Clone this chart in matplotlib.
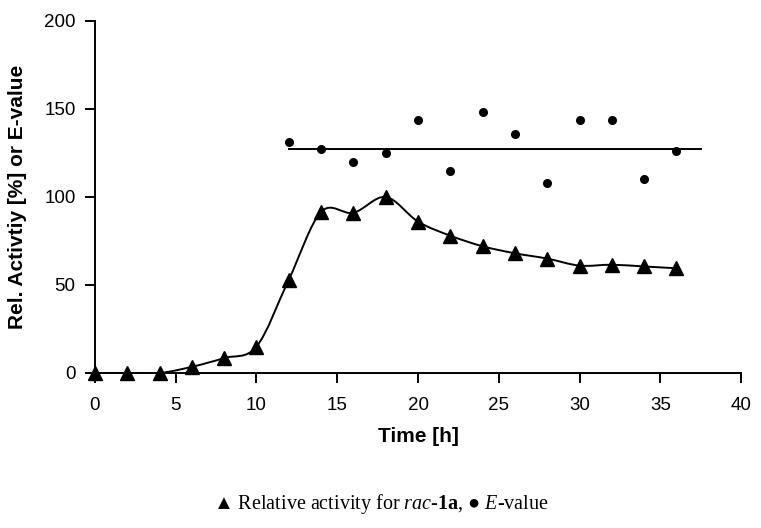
import numpy as np
import matplotlib
matplotlib.use("Agg")
import matplotlib.pyplot as plt
from matplotlib.path import Path
from matplotlib.patches import PathPatch

plt.rcParams['font.family'] = ['Liberation Sans', 'DejaVu Sans']
plt.rcParams['mathtext.fontset'] = 'custom'
plt.rcParams['mathtext.rm'] = 'Liberation Serif'
plt.rcParams['mathtext.it'] = 'Liberation Serif:italic'
plt.rcParams['mathtext.bf'] = 'Liberation Serif:bold'

# relative activity (%) vs time (h)
time_act = [0, 2, 4, 6, 8, 10, 12, 14, 16, 18, 20, 22, 24, 26, 28, 30, 32, 34, 36]
activity = [0, 0, 0, 3.5, 8.5, 15, 53, 91.5, 91, 100, 86, 78, 72, 68, 65, 61, 61.5, 60.5, 59.5]

# E-values
time_e = [12, 14, 16, 18, 20, 22, 24, 26, 28, 30, 32, 34, 36]
e_value = [131, 127, 120, 125, 144, 115, 148, 136, 108, 144, 144, 110, 126]
e_line_x = [12, 37.5]
e_line_y = [127, 127]


def smooth_path(x, y):
    # excel-like smoothed line as cubic bezier segments
    pts = np.column_stack([x, y]).astype(float)
    n = len(pts)
    verts = [pts[0]]
    codes = [Path.MOVETO]
    for i in range(n - 1):
        p0 = pts[i - 1] if i > 0 else pts[i]
        p1 = pts[i]
        p2 = pts[i + 1]
        p3 = pts[i + 2] if i + 2 < n else pts[i + 1]
        c1 = p1 + (p2 - p0) / 6.0
        c2 = p2 - (p3 - p1) / 6.0
        verts += [c1, c2, p2]
        codes += [Path.CURVE4] * 3
    return Path(verts, codes)


fig = plt.figure(figsize=(7.61, 5.28), dpi=100)
ax = fig.add_axes([0.1248, 0.2936, 0.849, 0.6667])

ax.add_patch(PathPatch(smooth_path(time_act, activity), fill=False, lw=1.4, color='black'))
ax.plot(time_act, activity, linestyle='none', marker='^', markersize=10, color='black', clip_on=False, zorder=5)
ax.plot(time_e, e_value, linestyle='none', marker='o', markersize=5.5, color='black', clip_on=False)
ax.plot(e_line_x, e_line_y, color='black', lw=1.4)

ax.set_xlim(0, 40)
ax.set_ylim(0, 200)
ax.set_xticks(range(0, 41, 5))
ax.set_yticks(range(0, 201, 50))
for s in ['top', 'right']:
    ax.spines[s].set_visible(False)
for s in ['left', 'bottom']:
    ax.spines[s].set_linewidth(1.4)
ax.tick_params(direction='out', length=7, width=1.4, labelsize=13.5)
ax.tick_params(axis='x', pad=10)
ax.tick_params(axis='y', pad=7)

ax.set_xlabel('Time [h]', fontsize=15, fontweight='bold', labelpad=10)
ax.set_ylabel('Rel. Activtiy [%] or E-value', fontsize=15, fontweight='bold', labelpad=12)

fig.text(0.5, 0.045,
         r'▲ Relative activity for $\mathit{rac}$-$\mathbf{1a}$, ● $\mathit{E}$-value',
         ha='center', va='center', fontsize=14.5, family=['Liberation Serif', 'DejaVu Serif'])

fig.savefig('out.png', dpi=100)
